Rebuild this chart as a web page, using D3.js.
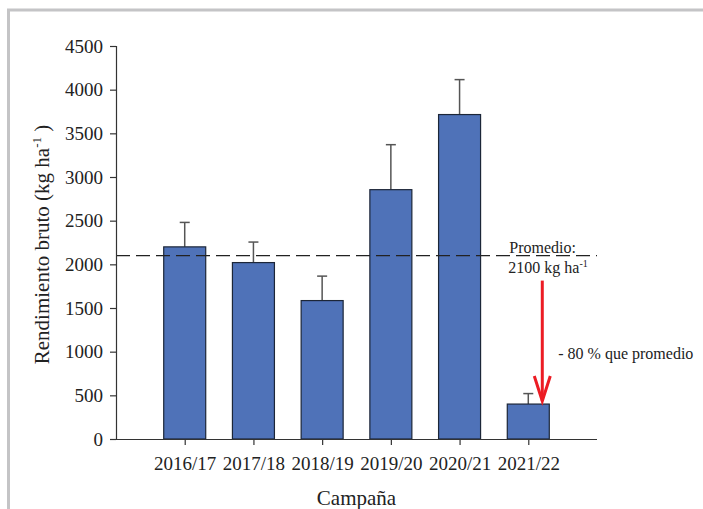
<!DOCTYPE html>
<html>
<head>
<meta charset="utf-8">
<script src="https://cdn.jsdelivr.net/npm/d3@7"></script>
<style>
  body { margin: 0; background: #fff; }
</style>
</head>
<body>
<div id="chart"></div>
<script>
const campaigns = ['2016/17', '2017/18', '2018/19', '2019/20', '2020/21', '2021/22'];
const yieldValues = [2200, 2020, 1585, 2855, 3715, 400];
const errorValues = [280, 235, 280, 515, 400, 120];
const average = 2100;
const yTicks = [0, 500, 1000, 1500, 2000, 2500, 3000, 3500, 4000, 4500];

const width = 703, height = 509;
const margin = { top: 46, right: 106, bottom: 70, left: 116 };
const serif = '"Liberation Serif", "Times New Roman", Times, serif';

const svg = d3.select('#chart')
  .append('svg')
  .attr('width', width)
  .attr('height', height);

// page frame
svg.append('path')
  .attr('d', `M8.5,${height} V10 H${width}`)
  .attr('fill', 'none')
  .attr('stroke', '#c4c4c6')
  .attr('stroke-width', 3);

const x = d3.scalePoint()
  .domain(campaigns)
  .range([margin.left, width - margin.right])
  .padding(1);

const y = d3.scaleLinear()
  .domain([0, 4500])
  .range([height - margin.bottom, margin.top]);

const barW = 42;

// error bars (upper only)
const err = svg.append('g')
  .attr('stroke', '#555')
  .attr('stroke-width', 1.5);

campaigns.forEach((c, i) => {
  const cx = x(c);
  err.append('line')
    .attr('x1', cx).attr('x2', cx)
    .attr('y1', y(yieldValues[i])).attr('y2', y(yieldValues[i] + errorValues[i]));
  err.append('line')
    .attr('x1', cx - 5).attr('x2', cx + 5)
    .attr('y1', y(yieldValues[i] + errorValues[i])).attr('y2', y(yieldValues[i] + errorValues[i]));
});

svg.append('g')
  .selectAll('rect')
  .data(campaigns)
  .enter()
  .append('rect')
  .attr('x', d => x(d) - barW / 2)
  .attr('y', (d, i) => y(yieldValues[i]))
  .attr('width', barW)
  .attr('height', (d, i) => y(0) - y(yieldValues[i]))
  .attr('fill', '#4f72b8')
  .attr('stroke', '#1c2638')
  .attr('stroke-width', 1.2);

// average line
svg.append('line')
  .attr('x1', margin.left).attr('x2', width - margin.right)
  .attr('y1', y(average)).attr('y2', y(average))
  .attr('stroke', '#222')
  .attr('stroke-width', 1.2)
  .attr('stroke-dasharray', '14,6');

// axes
const yAxis = svg.append('g')
  .attr('transform', `translate(${margin.left},0)`)
  .call(d3.axisLeft(y).tickValues(yTicks).tickSize(6).tickPadding(7).tickFormat(d3.format('d')));

const xAxis = svg.append('g')
  .attr('transform', `translate(0,${y(0)})`)
  .call(d3.axisBottom(x).tickSize(6).tickPadding(12));

[yAxis, xAxis].forEach(a => {
  a.attr('font-family', null).attr('font-size', null);
  a.select('.domain').attr('stroke', '#333').attr('stroke-width', 1.2);
  a.selectAll('.tick line').attr('stroke', '#333').attr('stroke-width', 1.2);
  a.selectAll('.tick text')
    .style('font-family', serif)
    .style('font-size', '19px')
    .attr('fill', '#222');
});
xAxis.select('.domain').attr('d', `M${margin.left},0.5H${width - margin.right}`);

// axis titles
svg.append('text')
  .attr('x', (margin.left + width - margin.right) / 2)
  .attr('y', 505)
  .attr('text-anchor', 'middle')
  .style('font-family', serif)
  .style('font-size', '21px')
  .attr('fill', '#222')
  .text('Campaña');

const yl = svg.append('text')
  .attr('transform', `translate(49,${(y(0) + y(4500)) / 2 + 2}) rotate(-90)`)
  .attr('text-anchor', 'middle')
  .style('font-family', serif)
  .style('font-size', '21px')
  .attr('fill', '#222');
yl.append('tspan').text('Rendimiento bruto (kg ha');
yl.append('tspan').style('font-size', '13px').attr('dy', -8).text('-1');
yl.append('tspan').attr('dy', 8).text(' )');

// annotation
const lastX = x(campaigns[campaigns.length - 1]);
svg.append('text')
  .attr('x', lastX - 19)
  .attr('y', y(average) - 3)
  .style('font-family', serif)
  .style('font-size', '16px')
  .attr('fill', '#222')
  .text('Promedio:');

const avgLabel = svg.append('text')
  .attr('x', lastX - 20)
  .attr('y', y(average) + 17)
  .style('font-family', serif)
  .style('font-size', '16px')
  .attr('fill', '#222');
avgLabel.append('tspan').text('2100 kg ha');
avgLabel.append('tspan').style('font-size', '10px').attr('dy', -6).text('-1');

const ax = lastX + 14;
const tipY = y(yieldValues[yieldValues.length - 1]) - 3;
const arrow = svg.append('g')
  .attr('stroke', '#ec1c24')
  .attr('stroke-width', 3)
  .attr('fill', 'none');
arrow.append('line')
  .attr('x1', ax).attr('x2', ax)
  .attr('y1', y(average) + 25).attr('y2', tipY);
arrow.append('path')
  .attr('d', `M${ax - 8},${tipY - 25} L${ax},${tipY} L${ax + 8},${tipY - 25}`);

svg.append('text')
  .attr('x', ax + 16)
  .attr('y', 359)
  .style('font-family', serif)
  .style('font-size', '16px')
  .attr('fill', '#222')
  .text('- 80 % que promedio');
</script>
</body>
</html>
